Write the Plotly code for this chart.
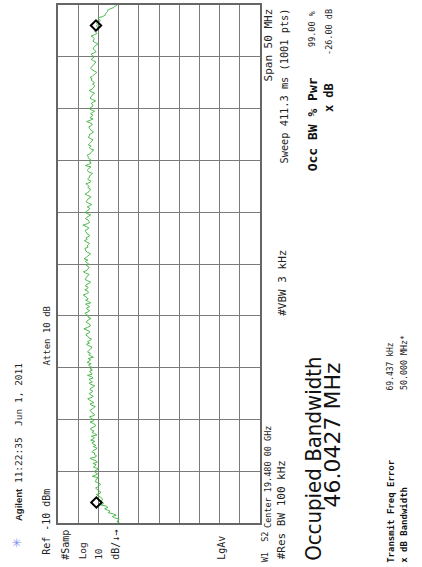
import plotly.graph_objects as go

# ---- data ----
center_ghz = 19.480
span_mhz = 50.0
n_points = 401
occ_bw_mhz = 46.0427

trace_dbm = [
    -40.5, -39.2, -39.6, -40.3, -38.0, -36.9, -38.8, -37.4, -34.9, -35.8, -34.4, -33.1, -34.7, -33.9, -31.0, -32.5, -32.2, -30.9, -32.1, -31.8,
    -31.0, -29.8, -29.0, -30.9, -31.1, -30.2, -29.3, -28.6, -29.8, -30.5, -31.1, -29.9, -28.4, -28.8, -29.0, -30.1, -27.0, -28.5, -29.6, -28.4,
    -28.0, -29.3, -29.9, -27.6, -28.2, -28.9, -27.3, -29.5, -28.9, -27.1, -25.9, -28.7, -29.0, -27.9, -28.2, -26.8, -27.4, -28.9, -29.2, -27.5,
    -28.7, -27.4, -26.9, -28.3, -26.2, -27.6, -28.0, -26.5, -29.3, -28.1, -26.9, -27.8, -26.4, -26.1, -27.4, -28.6, -28.4, -27.2, -25.9, -27.8,
    -27.3, -26.2, -25.6, -27.9, -28.0, -26.9, -26.4, -25.8, -27.0, -27.6, -28.5, -26.4, -25.9, -27.8, -26.6, -25.5, -24.7, -26.9, -27.4, -26.0,
    -25.4, -26.8, -27.1, -25.9, -26.1, -27.4, -28.2, -26.3, -25.4, -27.0, -26.1, -25.3, -27.4, -26.6, -24.6, -26.9, -26.5, -25.6, -27.0, -25.9,
    -26.9, -25.7, -25.1, -26.4, -24.4, -25.4, -26.2, -24.9, -27.5, -26.3, -25.2, -26.1, -24.6, -25.2, -25.7, -26.6, -26.7, -25.0, -24.1, -25.6,
    -24.6, -25.8, -26.6, -25.2, -24.9, -23.9, -24.1, -25.5, -25.7, -24.3, -22.8, -24.6, -25.9, -26.0, -25.2, -24.0, -24.4, -25.3, -26.3, -24.8,
    -25.0, -24.1, -23.3, -24.9, -25.7, -24.5, -24.1, -25.6, -24.7, -23.6, -26.2, -25.1, -23.7, -24.9, -24.4, -23.5, -22.5, -24.0, -25.2, -24.7,
    -23.3, -24.6, -24.9, -23.5, -24.0, -25.3, -26.1, -24.8, -23.4, -23.8, -24.1, -24.9, -25.4, -23.7, -22.6, -24.3, -24.6, -25.4, -25.1, -24.0,
    -25.2, -24.3, -23.5, -24.8, -22.9, -23.9, -24.7, -25.5, -26.1, -24.6, -23.8, -23.6, -23.3, -24.9, -24.5, -25.0, -25.6, -24.2, -23.1, -24.5,
    -23.8, -24.9, -25.8, -24.6, -24.2, -23.7, -23.5, -24.8, -25.2, -23.9, -22.3, -24.4, -25.6, -25.3, -24.9, -23.6, -24.2, -25.3, -26.2, -24.4,
    -23.6, -24.4, -25.4, -25.7, -24.5, -25.6, -26.7, -25.1, -24.0, -24.3, -24.7, -25.8, -26.2, -24.6, -23.4, -24.5, -25.4, -25.9, -26.0, -24.8,
    -25.4, -24.6, -23.8, -25.9, -26.3, -25.0, -24.8, -25.7, -25.5, -26.5, -27.1, -25.3, -24.6, -24.8, -25.4, -26.3, -23.6, -25.2, -26.4, -25.6,
    -26.6, -25.6, -25.0, -24.9, -24.4, -25.8, -26.3, -26.8, -27.7, -26.0, -25.5, -26.4, -25.0, -25.6, -26.2, -26.9, -27.3, -25.8, -24.9, -25.7,
    -25.5, -26.8, -27.6, -26.5, -26.0, -25.5, -25.3, -26.6, -27.0, -25.9, -24.2, -26.0, -27.4, -25.8, -26.8, -27.3, -26.1, -27.1, -28.1, -26.4,
    -25.5, -26.4, -27.3, -27.2, -26.4, -27.6, -28.6, -27.0, -25.9, -26.3, -26.7, -27.5, -28.1, -26.6, -25.4, -26.9, -27.4, -28.0, -28.0, -27.1,
    -28.1, -27.3, -26.4, -26.9, -25.9, -27.0, -27.7, -28.5, -29.2, -28.0, -26.9, -26.3, -26.4, -27.2, -27.6, -28.3, -28.8, -27.5, -26.4, -27.2,
    -27.9, -27.0, -26.3, -27.8, -28.9, -28.2, -27.4, -27.6, -28.1, -29.1, -29.7, -28.4, -27.3, -27.6, -28.1, -27.4, -26.4, -28.0, -29.3, -28.7,
    -28.1, -28.9, -30.2, -29.4, -29.1, -29.7, -29.0, -30.1, -31.0, -30.2, -29.8, -31.9, -33.3, -33.4, -33.9, -34.5, -34.6, -35.8, -37.5, -38.2,
    -39.3,
]
marker_dbm = [-29.0, -28.8]

ref_level = -10
db_per_div = 10

# ---- derived ----
start_ghz = center_ghz - span_mhz / 2000
stop_ghz = center_ghz + span_mhz / 2000
step = (stop_ghz - start_ghz) / (n_points - 1)
freq_ghz = [start_ghz + i * step for i in range(n_points)]
marker_freq = [center_ghz - occ_bw_mhz / 2000, center_ghz + occ_bw_mhz / 2000]

W, H = 422, 567
L, R, T, B = 58, 260, 3, 523

def px(x):
    return (x - L) / (R - L)

def py(y):
    return (B - y) / (B - T)

MONO = "DejaVu Sans Mono, Liberation Mono, monospace"
SANS = "DejaVu Sans Condensed, Liberation Sans Narrow, Liberation Sans, sans-serif"

fig = go.Figure()
fig.add_trace(go.Scatter(
    x=trace_dbm, y=freq_ghz, mode="lines",
    line=dict(color="#4cb84c", width=1, simplify=False), hoverinfo="skip", showlegend=False))
fig.add_trace(go.Scatter(
    x=marker_dbm, y=marker_freq, mode="markers",
    marker=dict(symbol="diamond-open", size=8, color="black",
                line=dict(color="black", width=2)),
    hoverinfo="skip", showlegend=False))

anns = []
def txt(t, x, y, yanchor, size=10, family=MONO, color="#222", xanchor="center"):
    anns.append(dict(text=t, x=px(x), y=py(y), xref="paper", yref="paper",
                     xanchor=xanchor, yanchor=yanchor, textangle=-90,
                     showarrow=False, font=dict(size=size, family=family, color=color)))

txt("✳", 17, 543, "middle", size=12, family="DejaVu Sans", color="#8090f0")
txt("<b><span style='font-family:Liberation Sans'>Agilent</span></b> 11:22:35  Jun 1, 2011",
    18, 523, "bottom", size=9.5)
txt("Ref -10 dBm", 47, 557, "bottom", size=10)
txt("Atten 10 dB", 47, 367, "bottom", size=9)
txt("#Samp", 66, 562, "bottom", size=10)
txt("Log", 82, 562, "bottom", size=9.5)
txt("10", 99, 562, "bottom", size=9.5)
txt("dB/↓→", 116, 562, "bottom", size=10)
txt("LgAv", 222, 562, "bottom", size=10)
txt("W1  S2", 265, 565, "bottom", size=8.5)
txt("Center 19.480 00 GHz", 268, 530, "bottom", size=8.5)
txt("#Res BW 100 kHz", 281, 562, "bottom", size=11)
txt("#VBW 3 kHz", 283, 317, "bottom", size=11)
txt("Span 50 MHz", 268, 5, "top", size=11)
txt("Sweep 411.3 ms (1001 pts)", 284, 5, "top", size=10.3)
txt("Occupied Bandwidth", 314, 563, "bottom", size=22, family=SANS, color="#111")
txt("46.0427 MHz", 333, 510, "bottom", size=22, family="DejaVu Sans, sans-serif", color="#111")
txt("<b>Occ BW % Pwr</b>", 312, 172, "bottom", size=13, color="#111")
txt("99.00 %", 312, 7, "top", size=8.5)
txt("<b>x dB</b>", 329, 113, "bottom", size=12, color="#111")
txt("-26.00 dB", 329, 5, "top", size=8.5)
txt("<b>Transmit Freq Error</b>", 391, 565, "bottom", size=9, color="#111")
txt("69.437 kHz", 391, 392, "bottom", size=8)
txt("<b>x dB Bandwidth</b>", 404, 565, "bottom", size=9, color="#111")
txt("50.000 MHz*", 404, 392, "bottom", size=8.3)

fig.update_layout(
    width=W, height=H,
    margin=dict(l=L, r=W - R, t=T, b=H - B, pad=0),
    paper_bgcolor="white", plot_bgcolor="white",
    annotations=anns, showlegend=False, hovermode=False,
    xaxis=dict(range=[ref_level, ref_level - 10 * db_per_div], tick0=ref_level, dtick=db_per_div,
               showticklabels=False, ticks="", showgrid=True, gridcolor="#7a7a7a", gridwidth=1,
               zeroline=False, showline=True, linecolor="#666", linewidth=2, mirror=True,
               fixedrange=True),
    yaxis=dict(range=[start_ghz, stop_ghz], tick0=start_ghz, dtick=span_mhz / 10000,
               showticklabels=False, ticks="", showgrid=True, gridcolor="#7a7a7a", gridwidth=1,
               zeroline=False, showline=True, linecolor="#666", linewidth=2, mirror=True,
               fixedrange=True),
)

fig.write_html("out.html", config={"displayModeBar": False},
               post_script="document.body.style.margin='0';document.body.style.overflow='hidden';")
